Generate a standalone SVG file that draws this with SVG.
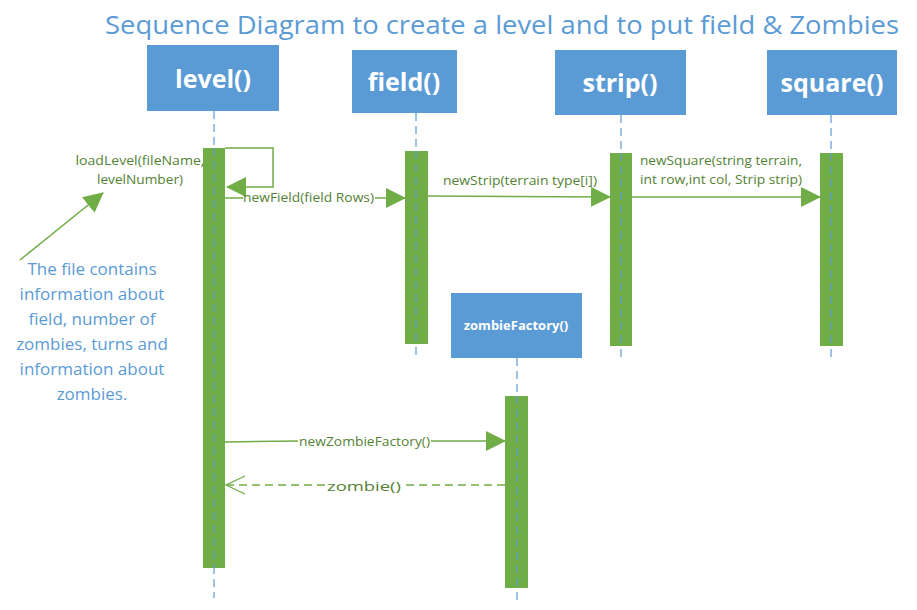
<svg xmlns="http://www.w3.org/2000/svg" width="917" height="610" viewBox="0 0 917 610">
<style>
.box{fill:#5B9BD5;}
.bt{font-family:"Open Sans","Liberation Sans",sans-serif;font-weight:bold;fill:#fff;text-anchor:middle;}
.life{stroke:#5B9BD5;stroke-width:1.2;stroke-dasharray:8,5;fill:none;}
.act{fill:#70AD47;}
.msg{stroke:#70AD47;stroke-width:1.5;fill:none;}
.ret{stroke:#70AD47;stroke-width:1.3;fill:none;stroke-dasharray:8,5;}
.gt{font-family:"Open Sans","Liberation Sans",sans-serif;font-size:12.5px;fill:#548235;}
.nt{font-family:"Open Sans","Liberation Sans",sans-serif;font-size:17px;fill:#5B9BD5;text-anchor:middle;}
</style>
<defs>
<marker id="fill" viewBox="0 0 20 20" refX="19" refY="10" markerWidth="20" markerHeight="20" markerUnits="userSpaceOnUse" orient="auto">
<path d="M0,0 L20,10 L0,20 Z" fill="#70AD47"/>
</marker>
<marker id="open" viewBox="0 0 22 22" refX="20" refY="11" markerWidth="22" markerHeight="22" markerUnits="userSpaceOnUse" orient="auto">
<path d="M1,2 L20,11 L1,20" fill="none" stroke="#70AD47" stroke-width="1.3"/>
</marker>
</defs>
<rect width="917" height="610" fill="#fff"/>
<text x="502" y="34" font-family="Open Sans,Liberation Sans,sans-serif" font-size="26" fill="#5B9BD5" text-anchor="middle" textLength="794" lengthAdjust="spacingAndGlyphs">Sequence Diagram to create a level and to put field &amp; Zombies</text>

<g id="lifelines">
<line class="life" x1="214" y1="111" x2="214" y2="598"/>
<line class="life" x1="416" y1="113" x2="416" y2="360"/>
<line class="life" x1="621" y1="115" x2="621" y2="360"/>
<line class="life" x1="831" y1="115" x2="831" y2="360"/>
<line class="life" x1="517" y1="358" x2="517" y2="605"/>
</g>

<g id="level">
<rect class="box" x="147" y="45" width="132" height="66"/>
<text class="bt" x="213" y="88" font-size="25">level()</text>
<rect class="act" x="203" y="148" width="22" height="420"/>
</g>
<g id="field">
<rect class="box" x="352" y="50" width="105" height="63"/>
<text class="bt" x="404" y="91" font-size="25">field()</text>
<rect class="act" x="405" y="151" width="23" height="193"/>
</g>
<g id="strip">
<rect class="box" x="555" y="50" width="131" height="65"/>
<text class="bt" x="620" y="92" font-size="25">strip()</text>
<rect class="act" x="610" y="153" width="22" height="193"/>
</g>
<g id="square">
<rect class="box" x="767" y="50" width="130" height="65"/>
<text class="bt" x="832" y="92" font-size="25">square()</text>
<rect class="act" x="820" y="153" width="23" height="193"/>
</g>
<g id="zombieFactory">
<rect class="box" x="451" y="293" width="131" height="65"/>
<text class="bt" x="516" y="330" font-size="13">zombieFactory()</text>
<rect class="act" x="505" y="396" width="23" height="192"/>
</g>
<g id="lifeline-overlay">
<line class="life" x1="214" y1="148" x2="214" y2="568"/>
<line class="life" x1="416" y1="151" x2="416" y2="344"/>
<line class="life" x1="621" y1="153" x2="621" y2="346"/>
<line class="life" x1="831" y1="153" x2="831" y2="346"/>
<line class="life" x1="517" y1="396" x2="517" y2="588"/>
</g>

<g id="note">
<text class="nt" x="92" y="275">The file contains</text>
<text class="nt" x="92" y="300">information about</text>
<text class="nt" x="92" y="325">field, number of</text>
<text class="nt" x="92" y="350">zombies, turns and</text>
<text class="nt" x="92" y="375">information about</text>
<text class="nt" x="92" y="400">zombies.</text>
</g>

<g id="connectors">
<path class="msg" d="M225,148 H273 V187 H227" marker-end="url(#fill)"/>
<line class="msg" x1="20" y1="260" x2="103" y2="193" marker-end="url(#fill)"/>
<line class="msg" x1="225" y1="198" x2="243" y2="198"/>
<line class="msg" x1="375" y1="198" x2="405" y2="198" marker-end="url(#fill)"/>
<line class="msg" x1="428" y1="196" x2="610" y2="197" marker-end="url(#fill)"/>
<line class="msg" x1="632" y1="197" x2="820" y2="197" marker-end="url(#fill)"/>
<line class="msg" x1="225" y1="442" x2="298" y2="441"/>
<line class="msg" x1="431" y1="441" x2="505" y2="441" marker-end="url(#fill)"/>
<line class="ret" x1="505" y1="485" x2="402" y2="485"/>
<line class="ret" x1="325" y1="485" x2="226" y2="485" marker-end="url(#open)"/>
</g>

<g id="labels">
<text class="gt" x="140" y="165" text-anchor="middle" textLength="129" lengthAdjust="spacingAndGlyphs">loadLevel(fileName,</text>
<text class="gt" x="140" y="184" text-anchor="middle" textLength="86" lengthAdjust="spacingAndGlyphs">levelNumber)</text>
<text class="gt" x="243" y="202" textLength="131" lengthAdjust="spacingAndGlyphs">newField(field Rows)</text>
<text class="gt" x="443" y="185" textLength="154" lengthAdjust="spacingAndGlyphs">newStrip(terrain type[i])</text>
<text class="gt" x="640" y="165" textLength="162" lengthAdjust="spacingAndGlyphs">newSquare(string terrain,</text>
<text class="gt" x="640" y="184" textLength="162" lengthAdjust="spacingAndGlyphs">int row,int col, Strip strip)</text>
<text class="gt" x="299" y="446" textLength="131" lengthAdjust="spacingAndGlyphs">newZombieFactory()</text>
<text class="gt" x="327" y="491" font-size="17" textLength="74" lengthAdjust="spacingAndGlyphs">zombie()</text>
</g>
</svg>
